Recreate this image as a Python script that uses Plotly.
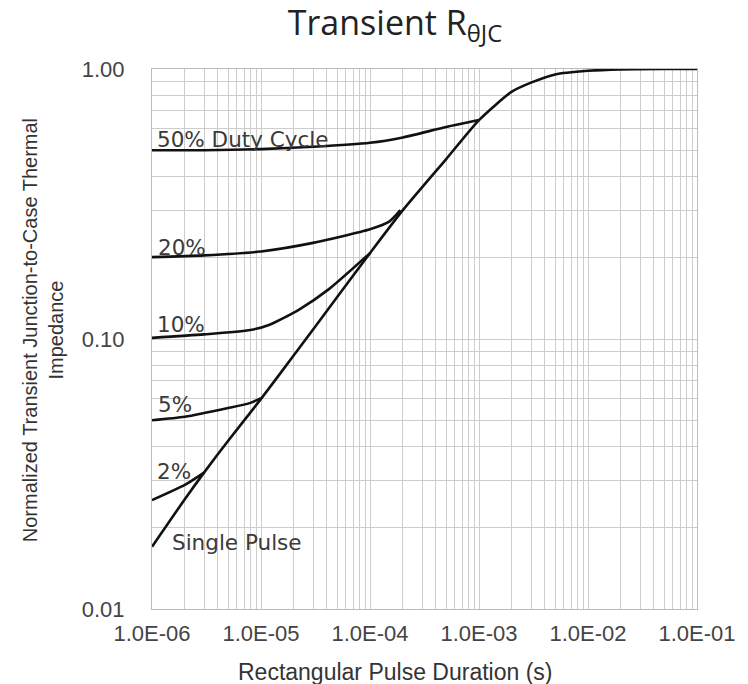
import math
import plotly.graph_objects as go

# ---- data ----
single_x = [1e-6, 2e-6, 3e-6, 5e-6, 1e-5, 2e-5, 5e-5, 1e-4, 2e-4, 5e-4, 1e-3, 2e-3, 3e-3, 5e-3, 1e-2, 2e-2, 5e-2, 1e-1]
single_y = [0.017, 0.0255, 0.032, 0.042, 0.060, 0.087, 0.143, 0.208, 0.300, 0.464, 0.647, 0.824, 0.89, 0.955, 0.985, 0.997, 1.0, 1.0]

d50_x = [1e-6, 3e-6, 1e-5, 3e-5, 1e-4, 2e-4, 5e-4, 1e-3]
d50_y = [0.500, 0.500, 0.505, 0.515, 0.533, 0.558, 0.610, 0.647]

d20_x = [1e-6, 3e-6, 1e-5, 3e-5, 1e-4, 1.5e-4, 1.9e-4]
d20_y = [0.201, 0.204, 0.211, 0.227, 0.255, 0.272, 0.300]

d10_x = [1e-6, 3e-6, 8e-6, 1.2e-5, 2.2e-5, 4.2e-5, 1e-4]
d10_y = [0.101, 0.104, 0.108, 0.113, 0.128, 0.153, 0.208]

d5_x = [1e-6, 2e-6, 5e-6, 8e-6, 1e-5]
d5_y = [0.050, 0.0515, 0.0555, 0.058, 0.0604]

d2_x = [1e-6, 2e-6, 3e-6]
d2_y = [0.0253, 0.0288, 0.032]

x_tick_vals = [1e-6, 1e-5, 1e-4, 1e-3, 1e-2, 1e-1]
x_tick_text = ["1.0E-06", "1.0E-05", "1.0E-04", "1.0E-03", "1.0E-02", "1.0E-01"]
y_tick_vals = [0.01, 0.1, 1.0]
y_tick_text = ["0.01", "0.10", "1.00"]

labels = ["50% Duty Cycle", "20%", "10%", "5%", "2%", "Single Pulse"]
label_x = [1.06e-6, 1.08e-6, 1.06e-6, 1.08e-6, 1.06e-6, 1.45e-6]
label_y = [0.55, 0.219, 0.113, 0.057, 0.0324, 0.0177]

# ---- figure ----
fig = go.Figure()
line_style = dict(color="#111111", width=2.6, shape="spline", smoothing=0.6)
for xs, ys in [(d50_x, d50_y), (d20_x, d20_y), (d10_x, d10_y), (d5_x, d5_y), (d2_x, d2_y), (single_x, single_y)]:
    fig.add_trace(go.Scatter(x=xs, y=ys, mode="lines", line=line_style, showlegend=False, hoverinfo="skip"))

for t, lx, ly in zip(labels, label_x, label_y):
    fig.add_annotation(x=math.log10(lx), y=math.log10(ly), xref="x", yref="y",
                       text=t, showarrow=False, xanchor="left", yanchor="middle",
                       font=dict(family="DejaVu Sans", size=21.5, color="#3a3a3a"))

grid_col = "#cdcdcd"
fig.update_xaxes(type="log", range=[-6, -1], tickmode="array", tickvals=x_tick_vals, ticktext=x_tick_text,
                 showgrid=True, gridcolor=grid_col, gridwidth=1,
                 minor=dict(dtick="D1", showgrid=True, gridcolor=grid_col, gridwidth=1),
                 showline=True, linecolor="#bbbbbb", linewidth=1, mirror=True, ticks="",
                 tickfont=dict(family="Liberation Sans, Arial", size=22, color="#444444"),
                 ticklabelstandoff=5, zeroline=False)
fig.update_yaxes(type="log", range=[-2, 0], tickmode="array", tickvals=y_tick_vals, ticktext=y_tick_text,
                 showgrid=True, gridcolor=grid_col, gridwidth=1,
                 minor=dict(dtick="D1", showgrid=True, gridcolor=grid_col, gridwidth=1),
                 showline=True, linecolor="#bbbbbb", linewidth=1, mirror=True, ticks="",
                 tickfont=dict(family="Liberation Sans, Arial", size=22, color="#444444"),
                 ticklabelstandoff=22, zeroline=False)

fig.add_annotation(text="Rectangular Pulse Duration (s)", xref="paper", yref="paper",
                   x=(398 - 152) / 551, y=-(672 - 609) / 540, xanchor="center", yanchor="middle",
                   showarrow=False, font=dict(family="Liberation Sans, Arial", size=23, color="#333333"))
fig.add_annotation(text="Normalized Transient Junction-to-Case Thermal<br>Impedance", xref="paper", yref="paper",
                   x=(42 - 152) / 551, y=(609 - 330) / 540, xanchor="center", yanchor="middle", textangle=-90,
                   showarrow=False, font=dict(family="Liberation Sans Narrow, Arial Narrow, Liberation Sans, Arial", size=20, color="#333333"))

fig.update_layout(
    width=748, height=684,
    margin=dict(l=152, r=45, t=69, b=75),
    paper_bgcolor="white", plot_bgcolor="white",
    title=dict(text="Transient R<sub>θJC</sub>", x=395 / 748, xanchor="center", xref="container",
               y=1 - 23 / 684, yanchor="middle", yref="container",
               font=dict(family="Open Sans", size=34, color="#222222")),
)

fig.write_html("out.html")
